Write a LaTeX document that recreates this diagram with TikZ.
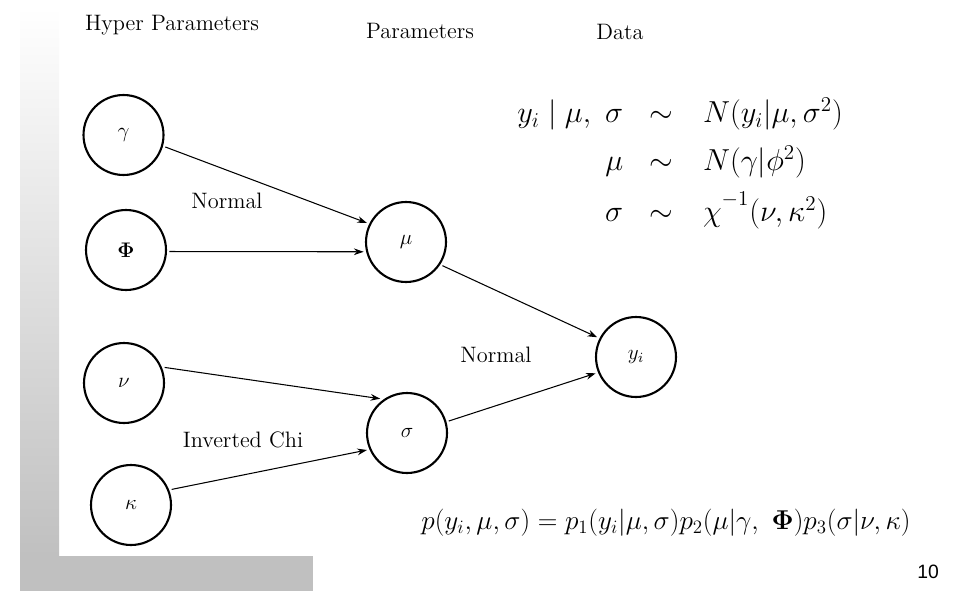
\documentclass[tikz,border=0pt]{standalone}
\usepackage{amsmath,amssymb}
\usepackage{graphicx}
\usepackage{fontspec}
\newfontfamily\pagenumfont{Liberation Sans}
\usetikzlibrary{arrows.meta,positioning}
\definecolor{cbar}{HTML}{C0C0C0}

\begin{document}
\begin{tikzpicture}[x=0.02cm, y=-0.02cm, >={Stealth[length=5.5pt,width=3.8pt]},
  var/.style={draw, circle, line width=1.2pt, minimum size=1.6cm, inner sep=0pt, outer sep=2pt, font=\fontsize{11.5}{13}\selectfont},
  lab/.style={font=\fontsize{12.7}{15}\selectfont},
  edge/.style={->, semithick}]
\useasboundingbox (0,0) rectangle (955,591);
% slide frame
\shade[top color=white, bottom color=cbar] (20,7) rectangle (59,556);
\fill[cbar] (20,556) rectangle (313,591);
% column heads
\node[lab] (hyper) at (172,25) {Hyper Parameters};
\node[lab] (param) at (420,31) {Parameters};
\node[lab] (data) at (620,32) {Data};
% variables
\node[var] (gam) at (123.5,135) {$\gamma$};
\node[var] (phi) at (126,250) {$\boldsymbol{\Phi}$};
\node[var] (nu) at (124,383) {$\nu$};
\node[var] (kap) at (131,505) {$\kappa$};
\node[var] (mu) at (406,242) {$\mu$};
\node[var] (sig) at (407,433) {$\sigma$};
\node[var] (y) at (636,357) {$y_i$};
% dependencies
\draw[edge] (gam.-16) -- (mu.154);
\draw[edge] (phi.-2) -- (mu.193);
\draw[edge] (nu.21) -- (sig.128);
\draw[edge] (kap.21) -- (sig.203);
\draw[edge] (mu.-33) -- (y.153);
\draw[edge] (sig.16) -- (y.202);
\node[lab] (normA) at (227,201) {Normal};
\node[lab] (invchi) at (243,440) {Inverted Chi};
\node[lab] (normB) at (496,355) {Normal};
% model
\node (eqs) at (680,165) {\fontsize{17}{21}\selectfont$\begin{array}{r@{\hspace{15pt}}c@{\hspace{17pt}}l}
  y_i \mid \mu,\ \sigma & \sim & N(y_i|\mu,\sigma^2)\\[6pt]
  \mu & \sim & N(\gamma|\phi^2)\\[6pt]
  \sigma & \sim & \chi^{\raisebox{3pt}{$\scriptstyle -1$}}(\nu,\kappa^2)
\end{array}$};
\node (joint) at (666,523) {\scalebox{0.897}{\fontsize{17.28}{21}\selectfont$p(y_i,\mu,\sigma)=p_1(y_i|\mu,\sigma)p_2(\mu|\gamma,\ \boldsymbol{\Phi})p_3(\sigma|\nu,\kappa)$}};
\node[font=\pagenumfont\fontsize{11}{13}\selectfont] (pagenum) at (928,572) {10};
\end{tikzpicture}
\end{document}
